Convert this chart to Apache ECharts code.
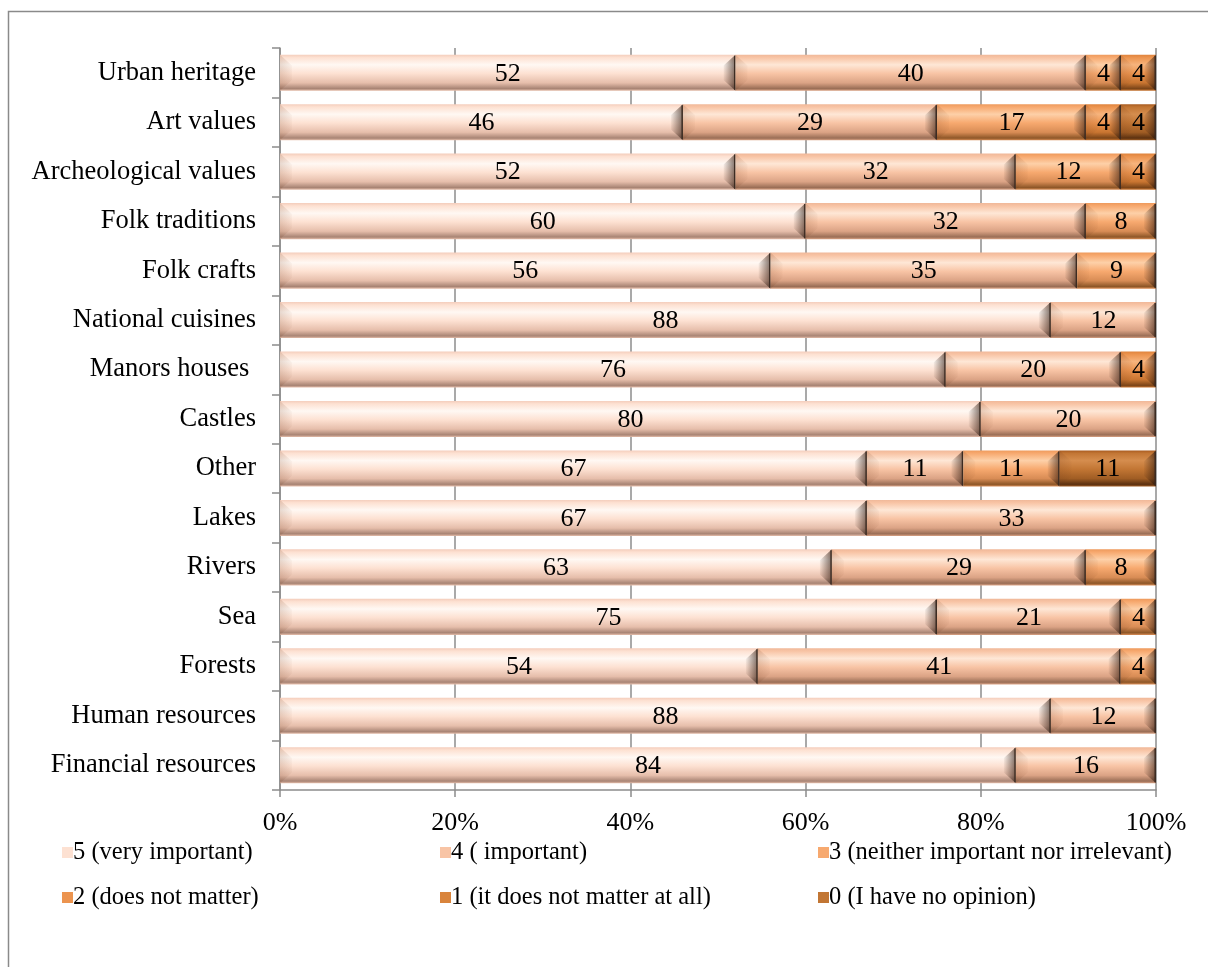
<!DOCTYPE html>
<html>
<head>
<meta charset="utf-8">
<title>Importance of tourism resources</title>
<script src="https://cdn.jsdelivr.net/npm/echarts@6/dist/echarts.min.js"></script>
<style>
  html, body { margin: 0; padding: 0; background: #ffffff; }
  #chart { width: 1208px; height: 967px; }
</style>
</head>
<body>
<div id="chart"></div>
<script>
// Resources, listed top to bottom
var categories = ['Urban heritage', 'Art values', 'Archeological values', 'Folk traditions', 'Folk crafts',
  'National cuisines', 'Manors houses ', 'Castles', 'Other', 'Lakes', 'Rivers', 'Sea', 'Forests',
  'Human resources', 'Financial resources'];

// Answer shares (%) per rating, same order as categories
var veryImportant   = [52, 46, 52, 60, 56, 88, 76, 80, 67, 67, 63, 75, 54, 88, 84];
var important       = [40, 29, 32, 32, 35, 12, 20, 20, 11, 33, 29, 21, 41, 12, 16];
var neither         = [4, 17, 12, 8, 9, 0, 0, 0, 11, 0, 8, 4, 4, 0, 0];
var doesNotMatter   = [4, 4, 4, 0, 0, 0, 4, 0, 0, 0, 0, 0, 0, 0, 0];
var notAtAll        = [0, 0, 0, 0, 0, 0, 0, 0, 0, 0, 0, 0, 0, 0, 0];
var noOpinion       = [0, 4, 0, 0, 0, 0, 0, 0, 11, 0, 0, 0, 0, 0, 0];

var seriesNames = ['5 (very important)', '4 ( important)', '3 (neither important nor irrelevant)',
  '2 (does not matter)', '1 (it does not matter at all)', '0 (I have no opinion)'];

var xTicks = [0, 20, 40, 60, 80, 100];

var FONT = "'Liberation Serif', 'Times New Roman', serif";

// bevelled fill colours for each rating
var palettes = [
  { top: '#F4CDBC', hi: '#FFF8F3', base: '#FDE1D2', low: '#E6BEAB', bot: '#A88474' },
  { top: '#F0B899', hi: '#FEE7D6', base: '#F8C4A5', low: '#DBA385', bot: '#9A6E56' },
  { top: '#EE9A5C', hi: '#FDD0A8', base: '#F7A96F', low: '#D88C55', bot: '#8E5728' },
  { top: '#DF833C', hi: '#F7B47D', base: '#EC944F', low: '#C97531', bot: '#7C4518' },
  { top: '#D9843C', hi: '#D9843C', base: '#D9843C', low: '#D9843C', bot: '#D9843C' },
  { top: '#A85B20', hi: '#D58D4E', base: '#C27634', low: '#A05D24', bot: '#5C3110' }
];

var rows = [veryImportant, important, neither, doesNotMatter, notAtAll, noOpinion];

// 100% stacking: each row is normalised to its own total
var totals = categories.map(function (c, i) {
  return rows.reduce(function (s, r) { return s + r[i]; }, 0);
});
var segments = rows.map(function () { return []; });
categories.forEach(function (c, i) {
  var acc = 0;
  rows.forEach(function (r, s) {
    var share = r[i] / totals[i] * 100;
    segments[s].push([acc, acc + share, i, r[i]]);
    acc += share;
  });
});

function makeRenderer(pal, flat) {
  return function (params, api) {
    var raw = api.value(3);
    if (!raw) return null;
    var p0 = api.coord([api.value(0), api.value(2)]);
    var p1 = api.coord([api.value(1), api.value(2)]);
    var band = api.size([0, 1])[1];
    var h = band * 0.73;
    var x0 = p0[0], x1 = p1[0], yc = p0[1];
    var y0 = yc - h / 2, y1 = yc + h / 2, w = x1 - x0;
    var bx = Math.min(12, w / 3), by = h * 0.3;
    var children = [];
    children.push({
      type: 'rect',
      shape: { x: x0, y: y0, width: w, height: h },
      style: {
        fill: flat ? pal.base : new echarts.graphic.LinearGradient(0, 0, 0, 1, [
          { offset: 0, color: pal.top },
          { offset: 0.08, color: pal.base },
          { offset: 0.28, color: pal.hi },
          { offset: 0.52, color: pal.base },
          { offset: 0.78, color: pal.low },
          { offset: 0.94, color: pal.bot },
          { offset: 1, color: pal.low }
        ])
      }
    });
    if (!flat) {
      children.push({
        type: 'polygon',
        shape: { points: [[x0, y0], [x0 + bx, y0 + by], [x0 + bx, y1 - by], [x0, y1]] },
        style: {
          fill: new echarts.graphic.LinearGradient(0, 0, 1, 0, [
            { offset: 0, color: 'rgba(110,55,25,0.16)' },
            { offset: 1, color: 'rgba(110,55,25,0.03)' }
          ])
        }
      });
      children.push({
        type: 'polygon',
        shape: { points: [[x1, y0], [x1 - bx, y0 + by], [x1 - bx, y1 - by], [x1, y1]] },
        style: {
          fill: new echarts.graphic.LinearGradient(0, 0, 1, 0, [
            { offset: 0, color: 'rgba(40,20,10,0.04)' },
            { offset: 1, color: 'rgba(40,20,10,0.6)' }
          ])
        }
      });
      children.push({
        type: 'line',
        shape: { x1: x1 - 0.75, y1: y0 + 1, x2: x1 - 0.75, y2: y1 - 1 },
        style: { stroke: '#3b2b22', lineWidth: 1.5 }
      });
    }
    children.push({
      type: 'text',
      style: {
        text: String(raw),
        x: (x0 + x1) / 2,
        y: yc + 1,
        align: 'center',
        verticalAlign: 'middle',
        fill: '#000000',
        font: '26px ' + FONT
      }
    });
    return { type: 'group', children: children };
  };
}

var series = seriesNames.map(function (name, s) {
  return {
    type: 'custom',
    name: name,
    coordinateSystem: 'cartesian2d',
    renderItem: makeRenderer(palettes[s], s === 4),
    encode: { x: [0, 1], y: 2 },
    itemStyle: { color: palettes[s].base },
    data: segments[s],
    z: 3
  };
});

var legendSpots = [
  [62, 840], [440, 840], [818, 840],
  [62, 885], [440, 885], [818, 885]
];
var legends = seriesNames.map(function (name, s) {
  return {
    data: [{ name: name, icon: 'rect' }],
    left: legendSpots[s][0],
    top: legendSpots[s][1],
    orient: 'horizontal',
    selectedMode: false,
    itemWidth: 11,
    itemHeight: 11,
    itemGap: 0,
    padding: 0,
    textStyle: { fontFamily: FONT, fontSize: 24.5, color: '#000000', padding: [0, 0, 0, -5] }
  };
});

var chart = echarts.init(document.getElementById('chart'), null, { renderer: 'canvas' });
chart.setOption({
  backgroundColor: '#ffffff',
  animation: false,
  graphic: [{
    type: 'rect',
    shape: { x: 8.5, y: 11.5, width: 1220, height: 980 },
    style: { fill: 'none', stroke: '#8a8a8a', lineWidth: 1.5 },
    silent: true,
    z: -1
  }],
  legend: legends,
  grid: { left: 280, right: 52, top: 48, bottom: 177, containLabel: false },
  xAxis: {
    type: 'value',
    min: xTicks[0],
    max: xTicks[xTicks.length - 1],
    interval: xTicks[1] - xTicks[0],
    axisLine: { show: true, lineStyle: { color: '#8c8c8c', width: 1.5 } },
    axisTick: { show: true, length: 7, lineStyle: { color: '#8c8c8c', width: 1.5 } },
    splitLine: { show: true, lineStyle: { color: '#8c8c8c', width: 1.5 } },
    axisLabel: {
      formatter: '{value}%',
      fontFamily: FONT, fontSize: 26, color: '#000000', margin: 20
    }
  },
  yAxis: {
    type: 'category',
    inverse: true,
    data: categories,
    axisLine: { show: true, lineStyle: { color: '#8c8c8c', width: 1.5 } },
    axisTick: { show: true, length: 8, lineStyle: { color: '#8c8c8c', width: 1.5 } },
    axisLabel: { fontFamily: FONT, fontSize: 26.5, color: '#000000', margin: 24 },
    splitLine: { show: false }
  },
  series: series
});
</script>
</body>
</html>
